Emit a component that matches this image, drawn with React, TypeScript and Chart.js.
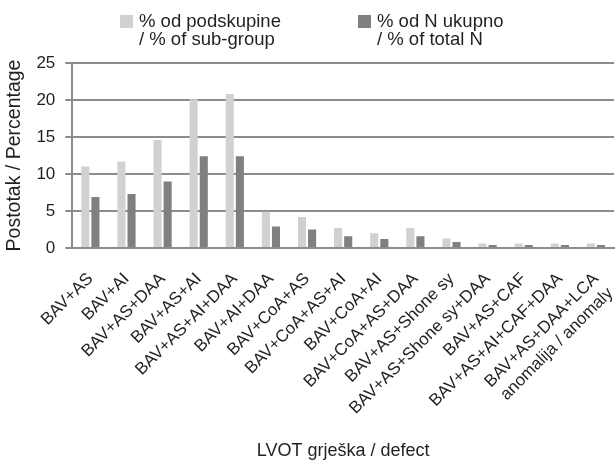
import React, { useEffect, useRef } from "react";
import { Chart, registerables } from "chart.js";

Chart.register(...registerables);

const categories: (string | string[])[] = [
  "BAV+AS",
  "BAV+AI",
  "BAV+AS+DAA",
  "BAV+AS+AI",
  "BAV+AS+AI+DAA",
  "BAV+AI+DAA",
  "BAV+CoA+AS",
  "BAV+CoA+AS+AI",
  "BAV+CoA+AI",
  "BAV+CoA+AS+DAA",
  "BAV+AS+Shone sy",
  "BAV+AS+Shone sy+DAA",
  "BAV+AS+CAF",
  "BAV+AS+AI+CAF+DAA",
  ["BAV+AS+DAA+LCA", "anomalija / anomaly"],
];

const subGroupValues = [11.0, 11.7, 14.6, 20.1, 20.8, 4.9, 4.2, 2.7, 2.0, 2.7, 1.3, 0.6, 0.6, 0.6, 0.6];
const totalNValues = [6.9, 7.3, 9.0, 12.4, 12.4, 2.9, 2.5, 1.6, 1.2, 1.6, 0.8, 0.4, 0.4, 0.4, 0.4];

const seriesNames = [
  ["% od podskupine", "/ % of sub-group"],
  ["% od N ukupno", "/ % of total N"],
];
const seriesColors = ["#d1d1d3", "#808083"];

const yTitle = "Postotak / Percentage";
const xTitle = "LVOT grješka / defect";

const FONT = '"Liberation Sans", Arial, sans-serif';
const TEXT = "#231f20";
const GRID = "#8c8c8c";

const legendPlugin = {
  id: "customLegend",
  afterDraw(chart: any) {
    const ctx = chart.ctx as CanvasRenderingContext2D;
    const boxX = [120, 358];
    ctx.save();
    ctx.font = `18.5px ${FONT}`;
    ctx.textBaseline = "middle";
    ctx.textAlign = "left";
    seriesNames.forEach((lines, i) => {
      ctx.fillStyle = seriesColors[i];
      ctx.fillRect(boxX[i], 15, 13, 13);
      ctx.fillStyle = TEXT;
      lines.forEach((line, j) => {
        ctx.fillText(line, boxX[i] + 19, 22 + j * 18);
      });
    });
    ctx.restore();
  },
};

export default function App() {
  const ref = useRef<HTMLCanvasElement>(null);
  useEffect(() => {
    if (!ref.current) return;
    const chart = new Chart(ref.current, {
      type: "bar",
      data: {
        labels: categories,
        datasets: [
          {
            label: seriesNames[0].join(" "),
            data: subGroupValues,
            backgroundColor: seriesColors[0],
            categoryPercentage: 0.56,
            barPercentage: 0.8,
          },
          {
            label: seriesNames[1].join(" "),
            data: totalNValues,
            backgroundColor: seriesColors[1],
            categoryPercentage: 0.56,
            barPercentage: 0.8,
          },
        ],
      },
      options: {
        animation: false,
        responsive: true,
        maintainAspectRatio: false,
        layout: { padding: { top: 63, left: 0, right: 2, bottom: 2 } },
        plugins: {
          legend: { display: false },
          tooltip: { enabled: false },
        },
        scales: {
          x: {
            afterFit(scale: any) {
              scale.paddingLeft = 0;
              scale.paddingRight = 0;
              scale.height = 214;
            },
            grid: { display: false },
            border: { display: true, color: GRID, width: 2 },
            ticks: {
              color: TEXT,
              font: { family: FONT, size: 17 },
              minRotation: 45,
              maxRotation: 45,
              autoSkip: false,
              padding: 13,
            },
            title: {
              display: true,
              text: xTitle,
              color: TEXT,
              font: { family: FONT, size: 18 },
              padding: { top: 0, bottom: 0 },
            },
          },
          y: {
            min: 0,
            max: 25,
            ticks: {
              stepSize: 5,
              color: TEXT,
              font: { family: FONT, size: 17 },
              padding: 10,
            },
            grid: { color: GRID, lineWidth: 2, tickLength: 7, drawTicks: true },
            border: { display: true, color: GRID, width: 2 },
            title: {
              display: true,
              text: yTitle,
              color: TEXT,
              font: { family: FONT, size: 19.5 },
              padding: { top: 3, bottom: 0 },
            },
          },
        },
      },
      plugins: [legendPlugin],
    });
    return () => chart.destroy();
  }, []);
  return (
    <div style={{ position: "fixed", left: 0, top: 0, width: 616, height: 464, background: "#fff" }}>
      <canvas ref={ref} />
    </div>
  );
}
